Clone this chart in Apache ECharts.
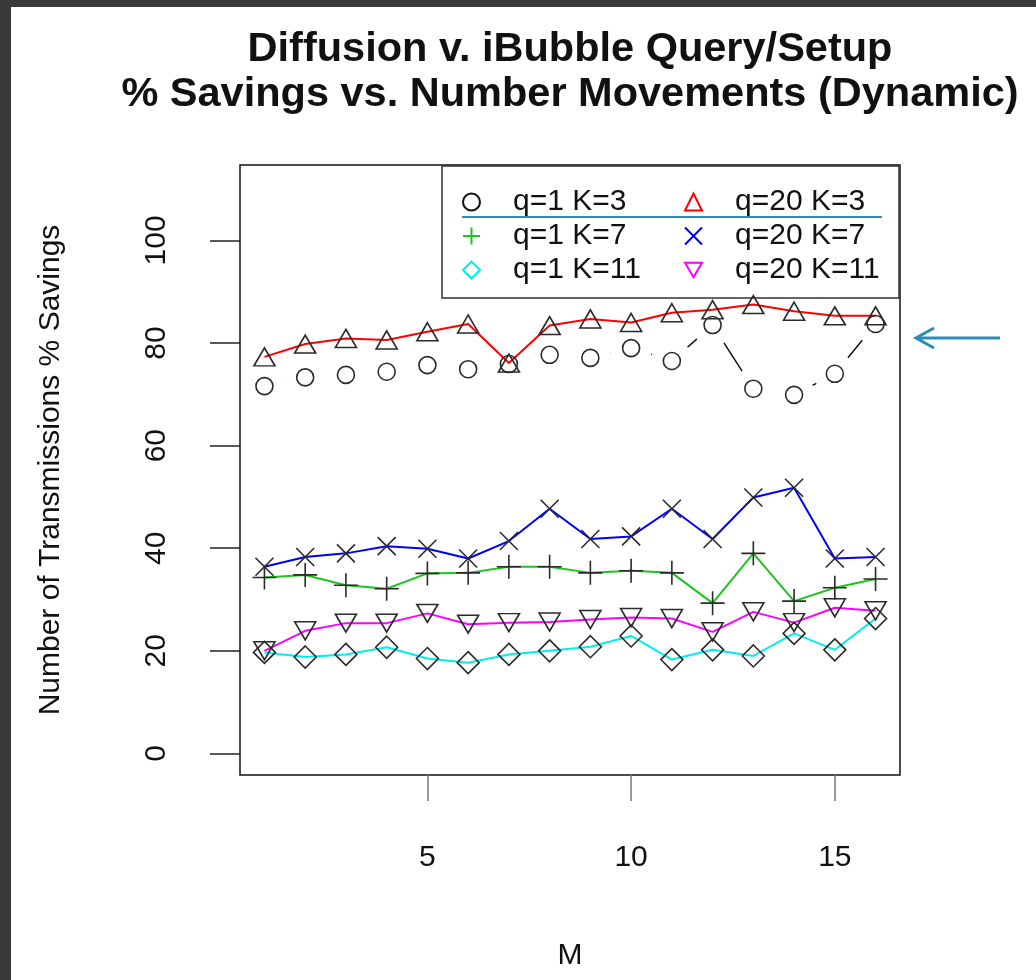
<!DOCTYPE html>
<html>
<head>
<meta charset="utf-8">
<script src="https://cdn.jsdelivr.net/npm/echarts@6/dist/echarts.min.js"></script>
<style>
html,body{margin:0;padding:0;background:#fff;}
#chart{width:1036px;height:980px;}
</style>
</head>
<body>
<div id="chart"></div>
<script>
// ---- data ----
const mValues = [1,2,3,4,5,6,7,8,9,10,11,12,13,14,15,16];
const q1K3  = [71.6,73.3,73.8,74.4,75.7,74.9,75.9,77.7,77.1,79.0,76.5,83.5,71.1,69.9,74.0,83.7];
const q20K3 = [77.3,79.8,80.9,80.6,82.2,83.7,76.1,83.4,84.7,84.0,85.9,86.5,87.5,86.2,85.3,85.3];
const q1K7  = [34.3,34.8,32.8,32.1,35.1,35.2,36.4,36.4,35.2,35.6,35.2,29.3,39.0,29.7,32.3,34.0];
const q20K7 = [36.4,38.3,39.0,40.4,39.9,38.0,41.4,47.7,41.8,42.3,47.7,41.8,49.9,51.8,38.0,38.3];
const q1K11 = [19.7,18.8,19.3,20.7,18.5,17.7,19.3,20.0,20.8,22.9,18.3,20.2,19.0,23.4,20.2,26.3];
const q20K11= [20.0,23.9,25.4,25.4,27.3,25.2,25.5,25.6,26.1,26.5,26.3,23.7,27.6,25.5,28.4,27.8];
const xTicks = [5,10,15];
const yTicks = [0,20,40,60,80,100];
const seriesNames = ['q=1 K=3','q=20 K=3','q=1 K=7','q=20 K=7','q=1 K=11','q=20 K=11'];

// ---- styling ----
const FONT = 'Liberation Sans, Arial, Helvetica, sans-serif';
const PLUS = 'path://M0,-10 L0,10 M-10,0 L10,0';
const CROSS = 'path://M-10,-10 L10,10 M-10,10 L10,-10';
const DOWNTRI = 'path://M0,0 L20,0 L10,17.3 Z';
const MARK = '#2a2a2a';
const pts = arr => mValues.map((m,i)=>[m, arr[i]]);

function markerStyle(){ return {color:'rgba(0,0,0,0)', borderColor:MARK, borderWidth:1.6, opacity:1}; }

const series = [
  // q=1 K=3: black line with gaps around the points (R type "b")
  {name:'_q1K3_line', type:'line', data:pts(q1K3), symbol:'none', z:2,
   lineStyle:{color:'#111', width:1.5}},
  {name:'_q1K3_gap', type:'scatter', data:pts(q1K3), symbol:'circle', symbolSize:42, z:3,
   itemStyle:{color:'#ffffff', borderWidth:0, opacity:1}},
  {name:seriesNames[0], type:'scatter', data:pts(q1K3), symbol:'circle', symbolSize:17, z:6,
   itemStyle:markerStyle()},
  {name:seriesNames[1], type:'line', data:pts(q20K3), symbol:'triangle', symbolSize:[21,18], z:5,
   lineStyle:{color:'#ff0000', width:2}, itemStyle:markerStyle()},
  {name:seriesNames[2], type:'line', data:pts(q1K7), symbol:PLUS, symbolSize:[24,24], z:5,
   lineStyle:{color:'#1ec41e', width:2}, itemStyle:markerStyle()},
  {name:seriesNames[3], type:'line', data:pts(q20K7), symbol:CROSS, symbolSize:[18,18], z:5,
   lineStyle:{color:'#0000ff', width:2}, itemStyle:markerStyle()},
  {name:seriesNames[4], type:'line', data:pts(q1K11), symbol:'diamond', symbolSize:[22,22], z:5,
   lineStyle:{color:'#00eeee', width:2}, itemStyle:markerStyle()},
  {name:seriesNames[5], type:'line', data:pts(q20K11), symbol:DOWNTRI, symbolSize:[21,18], z:5,
   lineStyle:{color:'#ff00ff', width:2}, itemStyle:markerStyle()}
];
series.forEach(s=>{ s.animation=false; s.emphasis={disabled:true}; s.silent=true; });

const legendIcons = {
  'q=1 K=3':{icon:'circle', col:'#111'},
  'q=20 K=3':{icon:'triangle', col:'#ff0000'},
  'q=1 K=7':{icon:PLUS, col:'#1ec41e'},
  'q=20 K=7':{icon:CROSS, col:'#0000ff'},
  'q=1 K=11':{icon:'diamond', col:'#00eeee'},
  'q=20 K=11':{icon:DOWNTRI, col:'#ff00ff'}
};
function legendData(names){
  return names.map(n=>({name:n, icon:legendIcons[n].icon,
    itemStyle:{color:'rgba(0,0,0,0)', borderColor:legendIcons[n].col, borderWidth:2, opacity:1}}));
}
const legendCommon = {
  orient:'vertical', top:185, padding:0, itemGap:0, itemWidth:17, itemHeight:17,
  selectedMode:false,
  textStyle:{fontFamily:FONT, fontSize:30, color:'#111', lineHeight:34, padding:[0,0,0,28]}
};

const option = {
  backgroundColor:'#ffffff',
  animation:false,
  title:{
    text:'Diffusion v. iBubble Query/Setup\n% Savings vs. Number Movements (Dynamic)',
    left:570, top:27, padding:0, textAlign:'center',
    textStyle:{fontFamily:FONT, fontSize:41.5, fontWeight:'bold', lineHeight:45, color:'#111'}
  },
  legend:[
    Object.assign({left:462, data:legendData([seriesNames[0],seriesNames[2],seriesNames[4]])}, legendCommon),
    Object.assign({left:684, data:legendData([seriesNames[1],seriesNames[3],seriesNames[5]])}, legendCommon)
  ],
  grid:{left:240, top:165, width:660, height:610, show:true, borderColor:'#111', borderWidth:1.5,
        backgroundColor:'rgba(0,0,0,0)'},
  xAxis:{
    type:'value', min:0.4, max:16.6,
    splitLine:{show:false}, axisLine:{show:false, onZero:false},
    axisTick:{show:true, length:26, customValues:xTicks, lineStyle:{color:'#777', width:1.5}},
    axisLabel:{customValues:xTicks, fontFamily:FONT, fontSize:30, color:'#111', margin:68},
    name:'M', nameLocation:'middle', nameGap:166,
    nameTextStyle:{fontFamily:FONT, fontSize:30, color:'#111'}
  },
  yAxis:{
    type:'value', min:-4.2, max:114.7,
    splitLine:{show:false}, axisLine:{show:false, onZero:false},
    axisTick:{show:true, length:30, customValues:yTicks, lineStyle:{color:'#222', width:1.5}},
    axisLabel:{customValues:yTicks, rotate:90, fontFamily:FONT, fontSize:30, color:'#111', margin:68},
    name:'Number of Transmissions % Savings', nameLocation:'middle', nameGap:174,
    nameTextStyle:{fontFamily:FONT, fontSize:30, color:'#111'}
  },
  series:series,
  graphic:[
    {type:'rect', shape:{x:0, y:0, width:11, height:980}, style:{fill:'#3a3a3a'}, silent:true},
    {type:'rect', shape:{x:0, y:0, width:1036, height:7}, style:{fill:'#3a3a3a'}, silent:true},
    {type:'rect', shape:{x:442, y:166, width:457, height:132}, style:{fill:'none', stroke:'#333', lineWidth:1.5}, silent:true},
    {type:'line', shape:{x1:462, y1:217, x2:882, y2:217}, style:{stroke:'#2a8db8', lineWidth:2}, silent:true},
    {type:'line', shape:{x1:1000, y1:338, x2:917, y2:338}, style:{stroke:'#2a8db8', lineWidth:3}, silent:true},
    {type:'polyline', shape:{points:[[934,328],[916,338],[934,348]]}, style:{stroke:'#2a8db8', lineWidth:3, fill:'none'}, silent:true}
  ]
};

const chart = echarts.init(document.getElementById('chart'), null, {renderer:'canvas'});
chart.setOption(option);
</script>
</body>
</html>
